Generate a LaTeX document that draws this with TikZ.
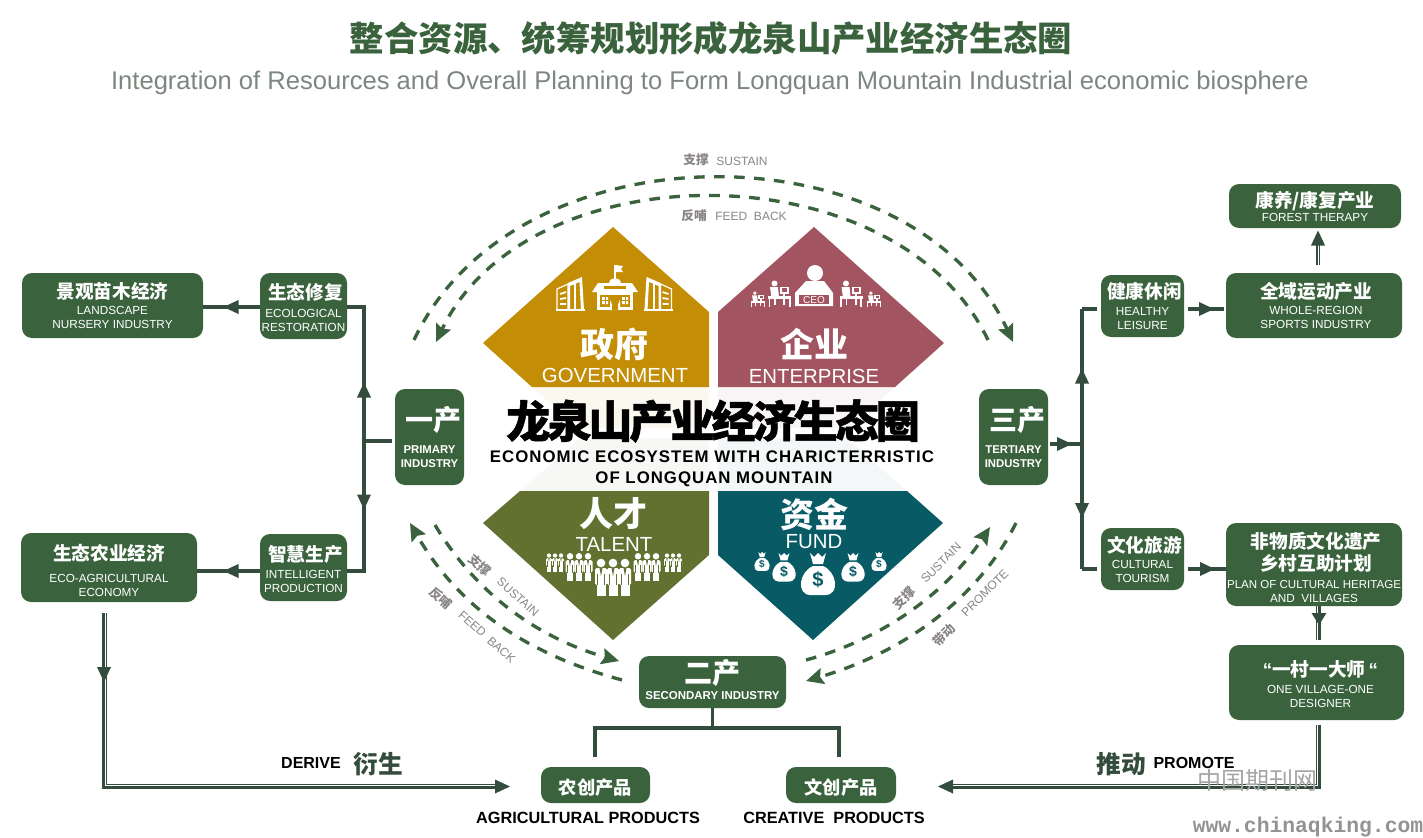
\documentclass[tikz,border=0pt]{standalone}
\usepackage{fontspec}
\setmainfont{Liberation Sans}
\newfontfamily\cn{Noto Sans CJK SC}
\newfontfamily\cnt{Noto Sans CJK SC}[BoldFeatures={FakeBold=1.2}]
\newfontfamily\wideb{Liberation Sans}[LetterSpace=6]
\newcommand\cnb{\cn\bfseries}
\newcommand\fs[1]{\fontsize{#1}{#1}\selectfont}
\newcommand\ct[1]{{\cnb\fontsize{14}{14}\selectfont #1}}
\newcommand\tp[1]{\rule{0pt}{\dimexpr12.4pt+#1\relax}}
\newcommand\kk{\kern-2.2pt}
\usetikzlibrary{arrows.meta}
\definecolor{boxg}{HTML}{3A633D}
\definecolor{linec}{HTML}{334C3D}
\definecolor{dashg}{HTML}{3A633D}
\definecolor{gov}{HTML}{C38D06}
\definecolor{ent}{HTML}{A25460}
\definecolor{tal}{HTML}{637130}
\definecolor{fund}{HTML}{085B65}
\definecolor{labg}{HTML}{8A8585}
\definecolor{subg}{HTML}{7D8780}
\tikzset{
  gbox/.style 2 args={fill=boxg,text=white,rounded corners=7.5pt,inner sep=0pt,align=center,
    minimum width=#1*0.75pt,minimum height=#2*0.75pt,font=\fontsize{8.8}{10.5}\selectfont},
  conn/.style={draw=linec,line width=2.4pt},
  dbl/.style={draw=linec,line width=0.9pt,double=white,double distance=0.7pt},
  thickl/.style={draw=linec,line width=2.25pt},
  thinl/.style={draw=linec,line width=0.8pt},
  dash1/.style={draw=dashg,line width=2.5pt,dash pattern=on 8pt off 7pt,-{Stealth[length=13pt,width=12pt,inset=2pt]}},
  lab/.style={text=labg,inner sep=0pt},
  dia/.style={text=white,inner sep=0pt},
}
\newcommand\tri[3]{\fill[linec,shift={(#1,#2)},rotate=#3] (-8,-7)--(-8,7)--(7,0)--cycle;}
% money bag
\newcommand\bag[5]{\begin{scope}[shift={(#2,#3)},scale=#4]
 \fill[white] (-8,-20)--(-4,-16)--(0,-20)--(4,-16)--(8,-20)--(5,-9)--(-5,-9)--cycle;
 \fill[white] (-5,-7) .. controls (-19,-1) and (-22,21) .. (-8,22) -- (8,22) .. controls (22,21) and (19,-1) .. (5,-7) -- cycle;
 \node[text=fund,inner sep=0pt,font=\bfseries\fs{#5}] (#1) at (0,7) {\$};
\end{scope}}
% talent group
\newcommand\tgroup[3]{\begin{scope}[shift={(#1,#2)},scale=#3]
 \foreach \d in {-12,0,12}{
  \fill[white] (\d,-13) circle (4.3);
  \fill[white,rounded corners=1.2pt] (\d-6,-8) rectangle (\d+6,9);
  \fill[white] (\d-4.5,8) rectangle (\d-0.4,20);
  \fill[white] (\d+0.4,8) rectangle (\d+4.5,20);
  \fill[tal] (\d-1.5,-8)--(\d+1.5,-8)--(\d,0)--cycle;
  \draw[tal,line width=#3*0.45pt] (\d-3.6,-2)--(\d-3.6,9) (\d+3.6,-2)--(\d+3.6,9);
 }
\end{scope}}
% desk worker
\newcommand\desk[3]{\begin{scope}[shift={(#1,#2)},scale=#3]
 \fill[white] (-5,-11) circle (3);
 \fill[white] (-9.5,-7.5)--(-1.5,-7.5)--(-0.5,3)--(-8,3)--cycle;
 \fill[white] (0.5,-8) rectangle (9.5,-1);
 \fill[ent] (2.5,-6.2) rectangle (7.5,-3);
 \fill[white] (3.8,-1) rectangle (5.8,2);
 \fill[white] (-11.5,1.5) rectangle (11.5,4.4);
 \fill[white] (-11,4) rectangle (-9.2,12);
 \fill[white] (9.2,4) rectangle (11,12);
 \fill[white] (-5.5,4) rectangle (-3.8,10);
 \fill[white] (3.8,4) rectangle (5.5,10);
\end{scope}}
% office tower
\newcommand\tower[2]{\begin{scope}[shift={(#1,0)},xscale=#2]
 \draw[white,line width=0.9pt] (-14,310)--(-14,289)--(-3,284)--(-3,310);
 \fill[white] (-3,283)--(11,277)--(13,310)--(10,310)--(8.5,282)--(-1,286)--(-1,310)--(-3,310)--cycle;
 \draw[white,line width=1.3pt] (-11,294)--(-5,292) (-11,299)--(-5,298) (-11,304)--(-5,304);
 \draw[white,line width=1.2pt] (-15,310)--(14,310);
 \fill[white] (3,284) rectangle (5,310);
\end{scope}}
\begin{document}
\begin{tikzpicture}[x=0.75pt,y=-0.75pt]
\useasboundingbox (0,0) rectangle (1423,838);
\fill[white] (0,0) rectangle (1423,838);
% title
\node[text=boxg,inner sep=0pt,font=\cnb\fs{25.8}] (title) at (711,38) {整合资源、统筹规划形成龙泉山产业经济生态圈};
\node[text=subg,inner sep=0pt,font=\fs{19.17}] (subtitle) at (710,83) {Integration of Resources and Overall Planning to Form Longquan Mountain Industrial economic biosphere};
% pale parts
\fill[gov!6] (532,387)--(709,387)--(709,428)--(578,428)--cycle;
\fill[ent!6] (718,387)--(895,387)--(849,428)--(718,428)--cycle;
\fill[tal!5] (520,491)--(709,491)--(709,438)--(581,438)--cycle;
\fill[fund!5] (907,491)--(718,491)--(718,438)--(846,438)--cycle;
% diamonds
\fill[gov] (613,227)--(709,312)--(709,387)--(532,387)--(483,343)--cycle;
\fill[ent] (814,227)--(718,312)--(718,387)--(895,387)--(944,343)--cycle;
\fill[tal] (613,640)--(709,555)--(709,491)--(520,491)--(483,523)--cycle;
\fill[fund] (813,640)--(718,555)--(718,491)--(907,491)--(943,523)--cycle;
\node[dia,font=\cnb\fs{25.5}] (zf) at (614,344) {政府};
\node[dia,font=\fs{15.3}] (zfe) at (615,375) {GOVERNMENT};
\node[dia,font=\cnb\fs{25.5}] (qy) at (814,344) {企业};
\node[dia,font=\fs{15.3}] (qye) at (814,376) {ENTERPRISE};
\node[dia,font=\cnb\fs{25.5}] (rc) at (613,514) {人才};
\node[dia,font=\fs{15.3}] (rce) at (614,544) {TALENT};
\node[dia,font=\cnb\fs{25.5}] (zj) at (814,514) {资金};
\node[dia,font=\fs{15.3}] (zje) at (814,542) {FUND};
% gov icon
\tower{571}{1}
\tower{657.5}{-1}
\draw[white,line width=1pt] (615,279)--(615,265);
\fill[white] (615,265)--(623,266)--(621,269)--(623,272)--(615,272)--cycle;
\fill[white] (609,284) .. controls (609,276) and (621,276) .. (621,284) -- cycle;
\fill[white] (598,283)--(632,283)--(638,292)--(592,292)--cycle;
\fill[gov] (604,286) rectangle (626,289);
\fill[white] (597,292) rectangle (633,310);
\fill[gov] (600,295) rectangle (630,307);
\fill[white] (610,310)--(610,300) arc[start angle=180,end angle=0,radius=5]--(620,310)--cycle;
\fill[gov] (612,310)--(612,300) arc[start angle=180,end angle=0,radius=3]--(618,310)--cycle;
\fill[white] (602,297) rectangle (608,304) (622,297) rectangle (628,304);
\draw[gov,line width=0.5pt] (605,297)--(605,304) (602,300.5)--(608,300.5) (625,297)--(625,304) (622,300.5)--(628,300.5);
% enterprise icon
\fill[white] (815,273) circle (8);
\fill[white] (806,281)--(824,281)--(833,293)--(833,306)--(795,306)--(795,293)--cycle;
\draw[white,fill=ent,line width=0.9pt] (798,294) rectangle (830,305);
\node[text=white,inner sep=0pt,font=\fs{7.5}] (ceo) at (814,299.7) {CEO};
\desk{779.5}{294.5}{1}
\desk{851}{294.5}{1}
\desk{758}{300}{0.62}
\desk{874}{300}{0.62}
% talent icon
\tgroup{613}{576}{1}
\tgroup{579}{566}{0.75}
\tgroup{647}{566}{0.75}
\tgroup{555}{562}{0.5}
\tgroup{673}{562}{0.5}
% money bags
\bag{d1}{818}{573}{1}{15}
\bag{d2}{784}{566.6}{0.68}{10.5}
\bag{d3}{853}{566.6}{0.68}{10.5}
\bag{d4}{762}{561}{0.45}{7.5}
\bag{d5}{879}{561}{0.45}{7.5}
% centre title
\node[inner sep=0pt,font=\cnt\bfseries\fs{33}] (ctitle) at (713,421) {龙\kk 泉\kk 山\kk 产\kk 业\kk 经\kk 济\kk 生\kk 态\kk 圈};
\node[inner sep=0pt,font=\wideb\bfseries\fs{12.6}] (cen1) at (712,457) {ECONOMIC ECOSYSTEM WITH CHARICTERRISTIC};
\node[inner sep=0pt,font=\wideb\bfseries\fs{12.6}] (cen2) at (714,479) {OF LONGQUAN MOUNTAIN};
% dashed arcs
\coordinate (a1) at (414,340); \coordinate (a2) at (1013,342);
\coordinate (b1) at (988,340); \coordinate (b2) at (436,342);
\draw[dash1] (a1) .. controls (515,124) and (912,124) .. (a2);
\draw[dash1] (b1) .. controls (897,149) and (528,149) .. (b2);
\coordinate (c1) at (622,680); \coordinate (c2) at (410,523);
\coordinate (e1) at (435,525); \coordinate (e2) at (619,661);
\coordinate (f1) at (806,660); \coordinate (f2) at (990,527);
\coordinate (g1) at (1016,523); \coordinate (g2) at (806,681);
\draw[dash1] (c1) .. controls (530,655) and (460,610) .. (c2);
\draw[dash1] (e1) .. controls (480,600) and (545,640) .. (e2);
\draw[dash1] (f1) .. controls (880,640) and (945,595) .. (f2);
\draw[dash1] (g1) .. controls (975,605) and (895,655) .. (g2);
% dashed labels
\node[lab,font=\cnb\fs{9.5}] (l1) at (696,160) {支撑};
\node[lab,font=\fs{9}] (l2) at (742,161) {SUSTAIN};
\node[lab,font=\cnb\fs{9.5}] (l3) at (694,216) {反哺};
\node[lab,font=\fs{9}] (l4) at (751,216) {FEED\ \ BACK};
\node[lab,font=\cnb\fs{9.5},rotate=-42] (l5) at (480,565) {支撑};
\node[lab,font=\fs{9},rotate=-42] (l6) at (518,597) {SUSTAIN};
\node[lab,font=\cnb\fs{9.5},rotate=-42] (l7) at (441,598) {反哺};
\node[lab,font=\fs{9},rotate=-42] (l8) at (487,637) {FEED\ \ BACK};
\node[lab,font=\cnb\fs{9.5},rotate=45] (l9) at (904,598) {支撑};
\node[lab,font=\fs{9},rotate=45] (l10) at (941,563) {SUSTAIN};
\node[lab,font=\cnb\fs{9.5},rotate=45] (l11) at (944,635) {带动};
\node[lab,font=\fs{9},rotate=45] (l12) at (985,593) {PROMOTE};
% boxes
\node[gbox={181}{65}] (land) at (112.5,305.5) {\ct{景观苗木经济}\\[1.7pt]LANDSCAPE\\NURSERY INDUSTRY};
\node[gbox={87}{66}] (eco) at (303.5,306) {\tp{2.25pt}\hspace*{3pt}\ct{生态修复}\\[3.25pt]ECOLOGICAL\\RESTORATION};
\node[gbox={87}{67}] (intel) at (303.5,567.5) {\tp{1.5pt}\hspace*{3pt}\ct{智慧生产}\\[2.5pt]INTELLIGENT\\PRODUCTION};
\node[gbox={176}{69}] (ecoag) at (109,567.5) {\tp{3.75pt}\ct{生态农业经济}\\[5.75pt]ECO-AGRICULTURAL\\ECONOMY};
\node[gbox={69}{96},font=\bfseries\fontsize{8.5}{10.5}\selectfont] (onep) at (429.5,437) {\hspace*{6pt}{\cnb\fontsize{21}{21}\selectfont 一产}\\[6.25pt]PRIMARY\\INDUSTRY};
\node[gbox={69}{96},font=\bfseries\fontsize{8.5}{10.5}\selectfont] (threep) at (1013.5,437) {\hspace*{6pt}{\cnb\fontsize{21}{21}\selectfont 三产}\\[6.25pt]TERTIARY\\INDUSTRY};
\node[gbox={83}{62}] (heal) at (1142.5,306) {\hspace*{3pt}\ct{健康休闲}\\[2.25pt]HEALTHY\\LEISURE};
\node[gbox={176}{65}] (whole) at (1314,305.5) {\hspace*{3pt}\ct{全域运动产业}\\[1.7pt]\hspace*{3pt}WHOLE-REGION\\\hspace*{3pt}SPORTS INDUSTRY};
\node[gbox={172}{44}] (forest) at (1315,206) {\ct{康养/康复产业}\\FOREST THERAPY};
\node[gbox={83}{62}] (cult) at (1142.5,559) {\hspace*{3pt}\ct{文化旅游}\\[1.5pt]CULTURAL\\TOURISM};
\node[gbox={176}{83}] (plan) at (1314,564.5) {\tp{4.5pt}\hspace*{3pt}\ct{非物质文化遗产}\\[1.5pt]\hspace*{3pt}\ct{乡村互助计划}\\[3pt]{\fontsize{8.65}{10.5}\selectfont PLAN OF CULTURAL HERITAGE}\\AND\ \ VILLAGES};
\node[gbox={175}{75}] (vill) at (1316.5,682.5) {\tp{1.5pt}\hspace*{6pt}{\bfseries\fontsize{14}{14}\selectfont “}\ct{一村一大师}{\bfseries\fontsize{14}{14}\selectfont\,“}\\[2.5pt]\hspace*{6pt}ONE VILLAGE-ONE\\\hspace*{6pt}DESIGNER};
\node[gbox={147}{52},font=\bfseries\fontsize{8.6}{10.5}\selectfont] (twop) at (712.5,682) {{\cnb\fontsize{21}{21}\selectfont 二产}\\[1.5pt]SECONDARY INDUSTRY\rule[-4.5pt]{0pt}{1pt}};
\node[gbox={109}{36}] (agp) at (595.5,785) {\rule{0pt}{15pt}{\cnb\fontsize{13.7}{14}\selectfont 农创产品}};
\node[gbox={110}{36}] (crp) at (841,785) {\rule{0pt}{15pt}{\cnb\fontsize{13.7}{14}\selectfont 文创产品}};
% connectors left
\coordinate (tlm) at (364,441);
\coordinate (tlt) at (364,307);
\coordinate (tlb) at (364,571);
\draw[conn] (eco.east |- tlt) -- (tlt) -- (tlb) -- (intel.east |- tlb);
\draw[conn,shorten >=2pt] (tlm) -- (onep.west |- tlm);
\draw[conn] (eco.west |- tlt) -- (land.east |- tlt);
\draw[conn] (intel.west |- tlb) -- (ecoag.east |- tlb);
\tri{364}{389.5}{90}
\tri{364}{502.5}{270}
\tri{230.5}{307}{180}
\tri{230.5}{571}{180}
% connectors right
\coordinate (trm) at (1082,444);
\coordinate (trt) at (1082,309);
\coordinate (trb) at (1082,569);
\draw[conn,shorten >=3pt] (trt) -- (heal.west |- trt);
\draw[conn,shorten >=3pt] (trb) -- (cult.west |- trb);
\draw[conn] (trt) -- (trb);
\draw[conn,shorten >=1.5pt] (trm) -- (threep.east |- trm);
\draw[conn,shorten <=3pt,shorten >=1.5pt] (heal.east |- trt) -- (whole.west |- trt);
\draw[conn,shorten <=3pt] (cult.east |- trb) -- (plan.west |- trb);
\tri{1082}{375.5}{90}
\tri{1082}{511}{270}
\tri{1065}{444}{0}
\tri{1207}{309}{0}
\tri{1208}{569}{0}
\coordinate (upbase) at (1318,245);
\coordinate (upstart) at (1318,265);
\draw[dbl] (upstart) -- (upbase);
\tri{1318}{237.5}{90}
% plan to village
\draw[thickl] ([xshift=2.25pt]plan.south -| vill.south) -- ++(0,34);
\draw[thinl] (plan.south -| vill.south) -- ++(0,34);
\fill[linec] (1311.5,613)--(1326.5,613)--(1319,625)--cycle;
% connectors bottom
\coordinate (stemb) at (712,728);
\coordinate (barl) at (595,728);
\coordinate (barr) at (839,728);
\draw[conn] (twop.south) -- (twop.south |- stemb);
\draw[conn] (agp.north -| barl) ++(0,-10) -- (barl) -- (barr) -- ([yshift=7.5pt]crp.north -| barr);
\coordinate (aendt) at (496,787.5);
\coordinate (aendn) at (496,784.5);
\coordinate (bendt) at (952,787.5);
\coordinate (bendn) at (952,784.5);
\draw[thickl,shorten <=8.25pt] ([xshift=-4.125pt]ecoag.south) |- (aendt);
\draw[thinl,shorten <=8.25pt] ([xshift=-1.875pt]ecoag.south) |- (aendn);
\draw[thickl,shorten <=3.75pt] ([xshift=2.25pt]vill.south) |- (bendt);
\draw[thinl,shorten <=3.75pt] (vill.south) |- (bendn);
\tri{104}{675}{270}
\tri{503}{786.5}{0}
\tri{945}{786.5}{180}
% bottom labels
\node[inner sep=0pt,font=\bfseries\fs{12.2}] (t1) at (588,818) {AGRICULTURAL PRODUCTS};
\node[inner sep=0pt,font=\bfseries\fs{12.2}] (t2) at (834,818) {CREATIVE\ \ PRODUCTS};
\node[inner sep=0pt,font=\bfseries\fs{12}] (t3) at (311,763) {DERIVE};
\node[text=linec,inner sep=0pt,font=\cnb\fs{18.5}] (t4) at (378,764) {衍生};
\node[text=linec,inner sep=0pt,font=\cnb\fs{18.5}] (t5) at (1121,764) {推动};
\node[inner sep=0pt,font=\bfseries\fs{12}] (t6) at (1194,763) {PROMOTE};
% watermark
\node[text=gray!70,inner sep=0pt,font=\cn\fs{18}] (w1) at (1257,780) {中国期刊网};
\node[text=gray!85,inner sep=0pt,font=\fontspec{Liberation Mono}\bfseries\fs{16}] (w2) at (1308,827) {www.chinaqking.com};
\end{tikzpicture}
\end{document}
